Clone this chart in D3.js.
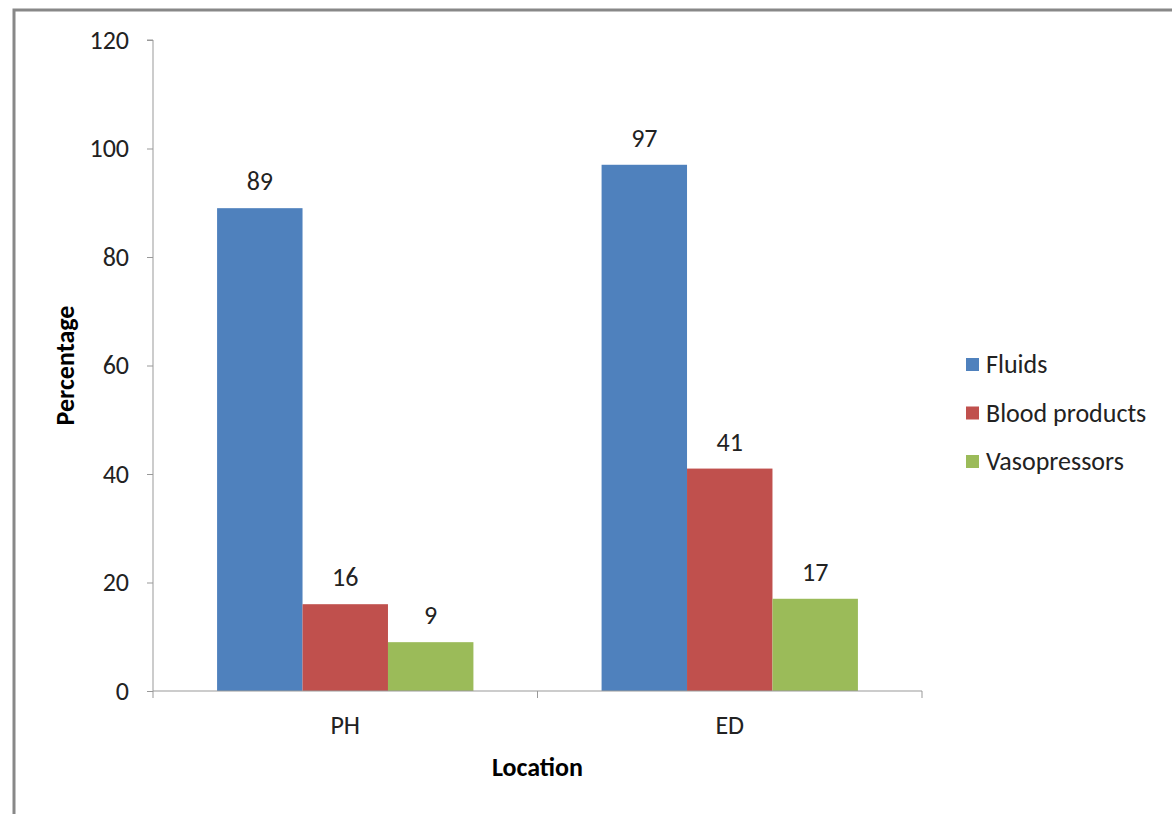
<!DOCTYPE html>
<html>
<head>
<meta charset="utf-8">
<script src="https://cdn.jsdelivr.net/npm/d3@7"></script>
<style>
body { margin: 0; background: #fff; }
svg { display: block; font-family: Carlito, Calibri, "Open Sans", sans-serif; }
</style>
</head>
<body>
<svg id="svg1" width="1172" height="814"></svg>
<script>
var locations = ['PH', 'ED'];
var seriesNames = ['Fluids', 'Blood products', 'Vasopressors'];
var fluids = [89, 97];
var bloodProducts = [16, 41];
var vasopressors = [9, 17];
var yTicks = [0, 20, 40, 60, 80, 100, 120];
var colors = ['#4f81bd', '#c0504d', '#9bbb59'];

var seriesValues = [fluids, bloodProducts, vasopressors];

var svg = d3.select('#svg1');

// chart border (runs off the right and bottom edges)
svg.append('rect')
    .attr('x', 14).attr('y', 10)
    .attr('width', 1200).attr('height', 900)
    .attr('fill', 'none')
    .attr('stroke', '#888')
    .attr('stroke-width', 3);

var plotLeft = 153, plotRight = 922, plotTop = 40, plotBottom = 691;
var fontSize = 26;

var x = d3.scaleBand().domain(locations).range([plotLeft, plotRight]).paddingInner(0).paddingOuter(0);
var xInner = d3.scaleBand().domain(seriesNames).range([0, x.bandwidth()]).paddingInner(0).paddingOuter(0.75);
var y = d3.scaleLinear().domain([0, 120]).range([plotBottom, plotTop]);

// y axis
var yAxis = svg.append('g')
    .attr('transform', 'translate(' + plotLeft + ',0)')
    .call(d3.axisLeft(y).tickValues(yTicks).tickSize(6).tickPadding(18));
yAxis.attr('font-family', null).attr('font-size', null);
yAxis.select('.domain').attr('stroke', '#999').attr('d', 'M-6,' + plotTop + 'H0V' + plotBottom);
yAxis.selectAll('.tick line').attr('stroke', '#999');
yAxis.selectAll('.tick text').attr('font-size', fontSize).attr('fill', '#222');

// bars
var groups = svg.selectAll('g.loc')
    .data(locations)
    .enter()
    .append('g')
    .attr('class', 'loc')
    .attr('transform', function(d) { return 'translate(' + x(d) + ',0)'; });

groups.each(function(loc, li) {
    var g = d3.select(this);
    seriesNames.forEach(function(s, si) {
        var v = seriesValues[si][li];
        g.append('rect')
            .attr('x', xInner(s))
            .attr('y', y(v))
            .attr('width', xInner.bandwidth())
            .attr('height', y(0) - y(v))
            .attr('fill', colors[si]);
        g.append('text')
            .attr('x', xInner(s) + xInner.bandwidth() / 2)
            .attr('y', y(v) - 18)
            .attr('text-anchor', 'middle')
            .attr('font-size', fontSize)
            .attr('fill', '#222')
            .text(v);
    });
});

// x axis
var xAxis = svg.append('g')
    .attr('transform', 'translate(0,' + plotBottom + ')');
xAxis.append('line')
    .attr('x1', plotLeft).attr('x2', plotRight)
    .attr('stroke', '#999');
[plotLeft, x('ED'), plotRight].forEach(function(t) {
    xAxis.append('line')
        .attr('x1', t).attr('x2', t).attr('y1', 0).attr('y2', 7)
        .attr('stroke', '#999');
});
xAxis.selectAll('text.cat')
    .data(locations)
    .enter()
    .append('text')
    .attr('class', 'cat')
    .attr('x', function(d) { return x(d) + x.bandwidth() / 2; })
    .attr('y', 43)
    .attr('text-anchor', 'middle')
    .attr('font-size', fontSize)
    .attr('fill', '#222')
    .text(function(d) { return d; });

// axis titles
svg.append('text')
    .attr('x', (plotLeft + plotRight) / 2)
    .attr('y', 776)
    .attr('text-anchor', 'middle')
    .attr('font-size', fontSize)
    .attr('font-weight', 'bold')
    .text('Location');

svg.append('text')
    .attr('transform', 'translate(74,' + (plotBottom + plotTop) / 2 + ') rotate(-90)')
    .attr('text-anchor', 'middle')
    .attr('font-size', fontSize)
    .attr('font-weight', 'bold')
    .text('Percentage');

// legend
var legend = svg.selectAll('g.legend')
    .data(seriesNames)
    .enter()
    .append('g')
    .attr('class', 'legend')
    .attr('transform', function(d, i) { return 'translate(966,' + (364 + i * 48.5) + ')'; });
legend.append('rect')
    .attr('x', 0).attr('y', -6)
    .attr('width', 13).attr('height', 13)
    .attr('fill', function(d, i) { return colors[i]; });
legend.append('text')
    .attr('x', 20)
    .attr('y', 9)
    .attr('font-size', fontSize)
    .attr('fill', '#222')
    .text(function(d) { return d; });
</script>
</body>
</html>
